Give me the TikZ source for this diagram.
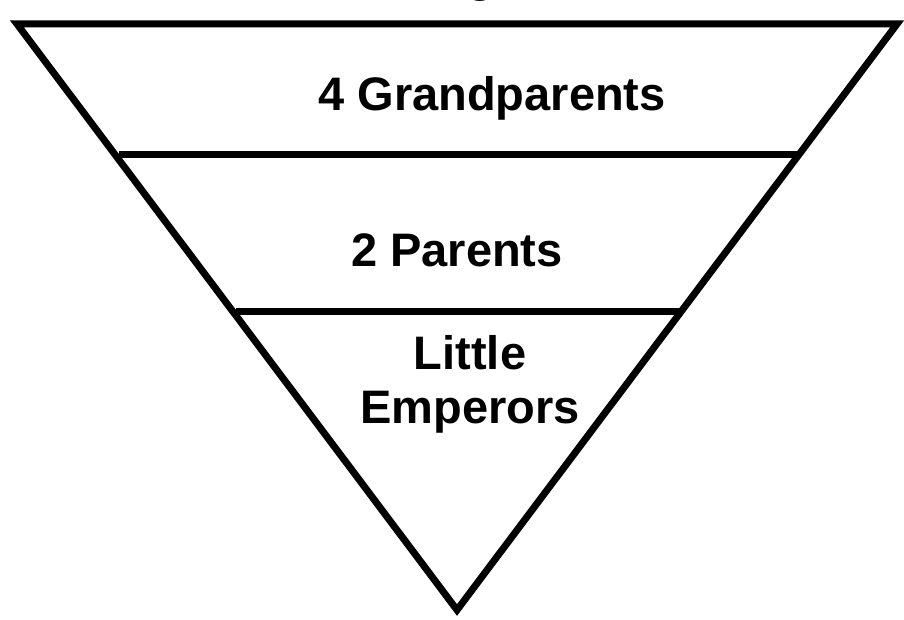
\documentclass[tikz,border=0pt]{standalone}
\usepackage{fontspec}
\setmainfont{Liberation Sans}
\begin{document}
\begin{tikzpicture}[x=1pt,y=-1pt,
  edge/.style={line width=7pt,line join=miter},
  lbl/.style={font=\fontsize{47}{54}\selectfont\bfseries,align=center,inner sep=0pt}]
\clip (0,0) rectangle (904,620);
\fill[white] (0,0) rectangle (904,620);
\coordinate (tl) at (17,24);
\coordinate (tr) at (897,24);
\coordinate (ap) at (457,610);
\coordinate (l1) at (118.5,155);
\coordinate (r1) at (798.5,155);
\coordinate (l2) at (235.5,311);
\coordinate (r2) at (681.5,311);
\draw[edge] (tl) -- (tr) -- (ap) -- cycle;
\draw[edge] (l1) -- (r1);
\draw[edge] (l2) -- (r2);
\node[lbl,anchor=base] (tg) at (481,-8) {g};
\node[lbl] (gp) at (492,98) {4 Grandparents};
\node[lbl] (pa) at (457,250) {2 Parents};
\node[lbl] (le) at (470,384) {Little\\Emperors};
\end{tikzpicture}
\end{document}
